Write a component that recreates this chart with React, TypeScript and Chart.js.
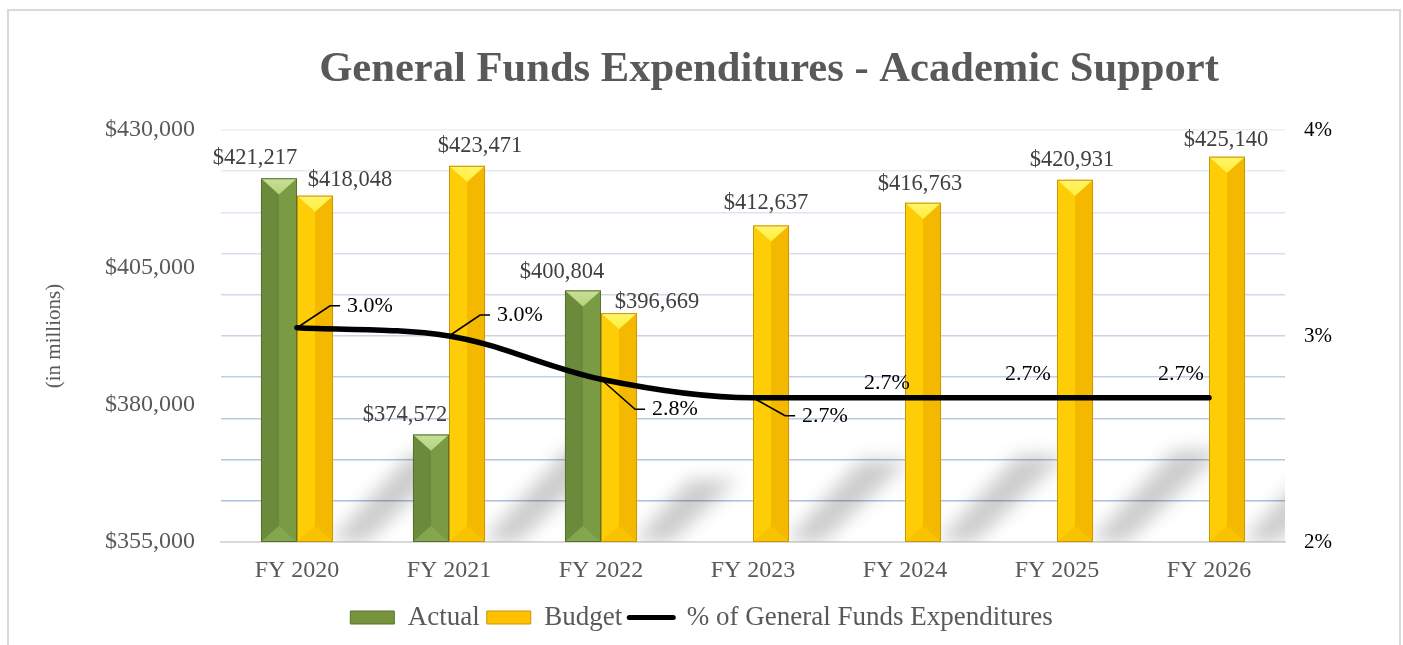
import React, { useEffect, useRef } from "react";
import { Chart, registerables } from "chart.js";

Chart.register(...registerables);

// ---------- data ----------
const titleText = "General Funds Expenditures - Academic Support";
const categories = ["FY 2020", "FY 2021", "FY 2022", "FY 2023", "FY 2024", "FY 2025", "FY 2026"];
const actualValues: (number | null)[] = [421217, 374572, 400804, null, null, null, null];
const budgetValues: number[] = [418048, 423471, 396669, 412637, 416763, 420931, 425140];
const pctValues: number[] = [3.04, 3.0, 2.79, 2.7, 2.7, 2.7, 2.7];
const leftMin = 355000;
const leftMax = 430000;
const leftStep = 25000;
const rightMin = 2;
const rightMax = 4;
const rightStep = 0.2;
const legendLabels = ["Actual", "Budget", "% of General Funds Expenditures"];
const yAxisTitle = "(in millions)";

// label nudges (pixels) copied from the reference's manual label placement
const actualLabelDx = [-24, -26, -21, 0, 0, 0, 0];
const actualLabelDy = [-1, 0, 1, 0, 0, 0, 0];
const budgetLabelDx = [35, 13, 38, -5, -3, -3, -1];
const budgetLabelDy = [3, -1, 8, -3, 0, -1, 2];
const pctLabelDx = [73, 71, 74, 72, -18, -29, -28];
const pctLabelDy = [-22, -21, 30, 18, -15, -24, -24];
const pctLeader = [true, true, true, true, false, false, false];

// ---------- styles ----------
const FONT = "'Liberation Serif', 'Times New Roman', Times, serif";
const GRAY = "#595959";

const greenPal = {
  base: "#77933c",
  left: "#6b8a3b",
  right: "#7a9a44",
  top: "#b4d47a",
  bottom: "#84a64e",
  edge: "#56722c",
};
const yellowPal = {
  base: "#ffc000",
  left: "#ffcd05",
  right: "#f5b800",
  top: "#fff03a",
  bottom: "#f9c300",
  edge: "#c8960a",
};

function hexToRgb(h: string) {
  const n = parseInt(h.slice(1), 16);
  return [(n >> 16) & 255, (n >> 8) & 255, n & 255];
}
function lerpColor(a: string, b: string, t: number) {
  const A = hexToRgb(a);
  const B = hexToRgb(b);
  const c = A.map((v, i) => Math.round(v + (B[i] - v) * t));
  return `rgb(${c[0]},${c[1]},${c[2]})`;
}

function poly(ctx: CanvasRenderingContext2D, pts: number[][], fill: any) {
  ctx.beginPath();
  ctx.moveTo(pts[0][0], pts[0][1]);
  for (let i = 1; i < pts.length; i++) ctx.lineTo(pts[i][0], pts[i][1]);
  ctx.closePath();
  ctx.fillStyle = fill;
  ctx.fill();
}

function drawBevelBar(ctx: CanvasRenderingContext2D, el: any, pal: any) {
  const p = el.getProps(["x", "y", "base", "width"], true);
  const x = p.x;
  const w = p.width;
  const L = x - w / 2;
  const R = x + w / 2;
  const top = Math.min(p.y, p.base);
  const bot = Math.max(p.y, p.base);
  const h = Math.min((w / 2) * 0.9, (bot - top) / 2);
  ctx.save();
  poly(ctx, [[L, top], [x, top + h], [x, bot - h], [L, bot]], pal.left);
  poly(ctx, [[R, top], [x, top + h], [x, bot - h], [R, bot]], pal.right);
  const g = ctx.createLinearGradient(0, top, 0, top + h);
  g.addColorStop(0, lerpColor(pal.top, "#ffffff", 0.25));
  g.addColorStop(1, pal.top);
  poly(ctx, [[L, top], [R, top], [x, top + h]], g);
  poly(ctx, [[L, bot], [x, bot - h], [R, bot]], pal.bottom);
  ctx.strokeStyle = pal.edge;
  ctx.lineWidth = 1;
  ctx.strokeRect(L + 0.5, top + 0.5, w - 1, bot - top - 1);
  ctx.restore();
}

const fmtMoney = (v: number) => "$" + v.toLocaleString("en-US");

const customPlugin = {
  id: "customDraw",
  beforeDraw(chart: any) {
    const ctx = chart.ctx as CanvasRenderingContext2D;
    ctx.save();
    ctx.fillStyle = "#ffffff";
    ctx.fillRect(0, 0, chart.width, chart.height);
    ctx.strokeStyle = "#d9d9d9";
    ctx.lineWidth = 2;
    ctx.strokeRect(8, 10, 1392, 700);
    ctx.fillStyle = GRAY;
    ctx.font = `bold 42.6px ${FONT}`;
    ctx.textAlign = "center";
    ctx.textBaseline = "alphabetic";
    ctx.fillText(titleText, 769, 81);
    ctx.restore();
  },
  beforeDatasetsDraw(chart: any) {
    const ctx = chart.ctx as CanvasRenderingContext2D;
    const area = chart.chartArea;
    const meta = chart.getDatasetMeta(1);
    ctx.save();
    ctx.beginPath();
    ctx.rect(area.left, area.top, area.right - area.left, area.bottom - area.top);
    ctx.clip();
    ctx.filter = "blur(9px)";
    ctx.fillStyle = "rgba(0,0,0,0.2)";
    meta.data.forEach((el: any) => {
      const p = el.getProps(["x", "y", "base", "width"], true);
      const R = p.x + p.width / 2;
      const hgt = p.base - p.y;
      const rise = 0.22 * hgt + 12;
      ctx.beginPath();
      ctx.moveTo(R - 4, p.base);
      ctx.lineTo(R + 34, p.base);
      ctx.lineTo(R + 38 + rise, p.base - rise);
      ctx.lineTo(R + rise - 10, p.base - rise);
      ctx.closePath();
      ctx.fill();
    });
    ctx.restore();
  },
  afterDatasetDraw(chart: any, args: any) {
    if (args.index !== 0 && args.index !== 1) return;
    const ctx = chart.ctx as CanvasRenderingContext2D;
    const pal = args.index === 0 ? greenPal : yellowPal;
    const vals = args.index === 0 ? actualValues : budgetValues;
    args.meta.data.forEach((el: any, i: number) => {
      if (vals[i] == null) return;
      drawBevelBar(ctx, el, pal);
    });
  },
  afterDatasetsDraw(chart: any) {
    const ctx = chart.ctx as CanvasRenderingContext2D;
    ctx.save();
    ctx.textAlign = "center";
    ctx.textBaseline = "middle";
    ctx.font = `22.5px ${FONT}`;
    ctx.fillStyle = "#404040";
    const m0 = chart.getDatasetMeta(0);
    m0.data.forEach((el: any, i: number) => {
      const v = actualValues[i];
      if (v == null) return;
      ctx.fillText(fmtMoney(v), el.x + actualLabelDx[i], el.y - 19 + actualLabelDy[i]);
    });
    const m1 = chart.getDatasetMeta(1);
    m1.data.forEach((el: any, i: number) => {
      const v = budgetValues[i];
      ctx.fillText(fmtMoney(v), el.x + budgetLabelDx[i], el.y - 19 + budgetLabelDy[i]);
    });
    const m2 = chart.getDatasetMeta(2);
    ctx.font = `22px ${FONT}`;
    ctx.fillStyle = "#000000";
    ctx.strokeStyle = "#000000";
    ctx.lineWidth = 1.6;
    m2.data.forEach((el: any, i: number) => {
      const txt = pctValues[i].toFixed(1) + "%";
      const cx = el.x + pctLabelDx[i];
      const cy = el.y + pctLabelDy[i];
      ctx.fillText(txt, cx, cy);
      if (pctLeader[i]) {
        const tw = ctx.measureText(txt).width;
        const left = cx - tw / 2;
        ctx.beginPath();
        ctx.moveTo(el.x, el.y);
        ctx.lineTo(left - 17, cy);
        ctx.lineTo(left - 7, cy);
        ctx.stroke();
      }
    });
    ctx.restore();
  },
};

function gridColor(index: number) {
  if (index === 0) return "rgba(0,0,0,0)";
  const t = (index - 1) / 9;
  return lerpColor("#adc0dc", "#eaeff7", t);
}

export default function App() {
  const ref = useRef<HTMLCanvasElement | null>(null);

  useEffect(() => {
    if (!ref.current) return;
    const chart = new Chart(ref.current, {
      type: "bar",
      data: {
        labels: categories,
        datasets: [
          {
            type: "bar",
            label: legendLabels[0],
            data: actualValues,
            backgroundColor: greenPal.base,
            borderWidth: 0,
            yAxisID: "y",
            base: leftMin,
            barPercentage: 1,
            categoryPercentage: 0.474,
            order: 1,
          },
          {
            type: "bar",
            label: legendLabels[1],
            data: budgetValues,
            backgroundColor: yellowPal.base,
            borderWidth: 0,
            yAxisID: "y",
            base: leftMin,
            barPercentage: 1,
            categoryPercentage: 0.474,
            order: 2,
          },
          {
            type: "line",
            label: legendLabels[2],
            data: pctValues,
            borderColor: "#000000",
            backgroundColor: "#000000",
            borderWidth: 5.5,
            pointRadius: 0,
            borderCapStyle: "round",
            borderJoinStyle: "round",
            cubicInterpolationMode: "monotone",
            yAxisID: "y1",
            order: 0,
          } as any,
        ],
      },
      options: {
        responsive: false,
        animation: false,
        devicePixelRatio: 1,
        layout: { padding: { top: 130, bottom: 4, left: 0, right: 0 } },
        plugins: {
          title: { display: false },
          tooltip: { enabled: false },
          legend: {
            display: true,
            position: "bottom",
            labels: {
              usePointStyle: true,
              pointStyleWidth: 44,
              boxHeight: 13,
              padding: 7,
              color: GRAY,
              font: { family: FONT, size: 27 },
              generateLabels: () => [
                {
                  text: legendLabels[0],
                  fillStyle: greenPal.base,
                  strokeStyle: greenPal.edge,
                  lineWidth: 1,
                  pointStyle: "rect",
                  datasetIndex: 0,
                  hidden: false,
                  fontColor: GRAY,
                },
                {
                  text: legendLabels[1],
                  fillStyle: yellowPal.base,
                  strokeStyle: yellowPal.edge,
                  lineWidth: 1,
                  pointStyle: "rect",
                  datasetIndex: 1,
                  hidden: false,
                  fontColor: GRAY,
                },
                {
                  text: legendLabels[2],
                  fillStyle: "#000000",
                  strokeStyle: "#000000",
                  lineWidth: 5,
                  lineCap: "round",
                  pointStyle: "line",
                  datasetIndex: 2,
                  hidden: false,
                  fontColor: GRAY,
                },
              ],
            },
          },
        },
        scales: {
          x: {
            grid: { display: false, drawTicks: false },
            border: { display: true, color: "#d9d9d9", width: 2 },
            ticks: { font: { family: FONT, size: 24 }, color: GRAY, padding: 14 },
            afterFit: (s: any) => {
              s.height = 55;
            },
          },
          y: {
            position: "left",
            min: leftMin,
            max: leftMax,
            grid: { display: false, drawTicks: false },
            border: { display: false },
            ticks: {
              stepSize: leftStep,
              font: { family: FONT, size: 24 },
              color: GRAY,
              padding: 26,
              callback: (v: any) => fmtMoney(Number(v)),
            },
            title: {
              display: true,
              text: yAxisTitle,
              font: { family: FONT, size: 21 },
              color: GRAY,
              padding: { top: 42, bottom: 0 },
            },
            afterFit: (s: any) => {
              s.width = 221;
            },
          },
          y1: {
            position: "right",
            min: rightMin,
            max: rightMax,
            grid: {
              drawTicks: false,
              lineWidth: 1.5,
              color: (c: any) => gridColor(c.index),
            },
            border: { display: false },
            ticks: {
              stepSize: rightStep,
              autoSkip: false,
              font: { family: FONT, size: 21 },
              color: "#000000",
              padding: 19,
              callback: (v: any) => {
                const n = Number(v);
                return Math.abs(n - Math.round(n)) < 1e-6 ? `${Math.round(n)}%` : "";
              },
            },
            afterFit: (s: any) => {
              s.width = 118;
            },
          },
        },
      } as any,
      plugins: [customPlugin],
    });
    return () => chart.destroy();
  }, []);

  return (
    <div style={{ position: "absolute", left: 0, top: 0, width: 1403, height: 645, overflow: "hidden" }}>
      <canvas ref={ref} width={1403} height={645} style={{ width: 1403, height: 645, display: "block" }} />
    </div>
  );
}
